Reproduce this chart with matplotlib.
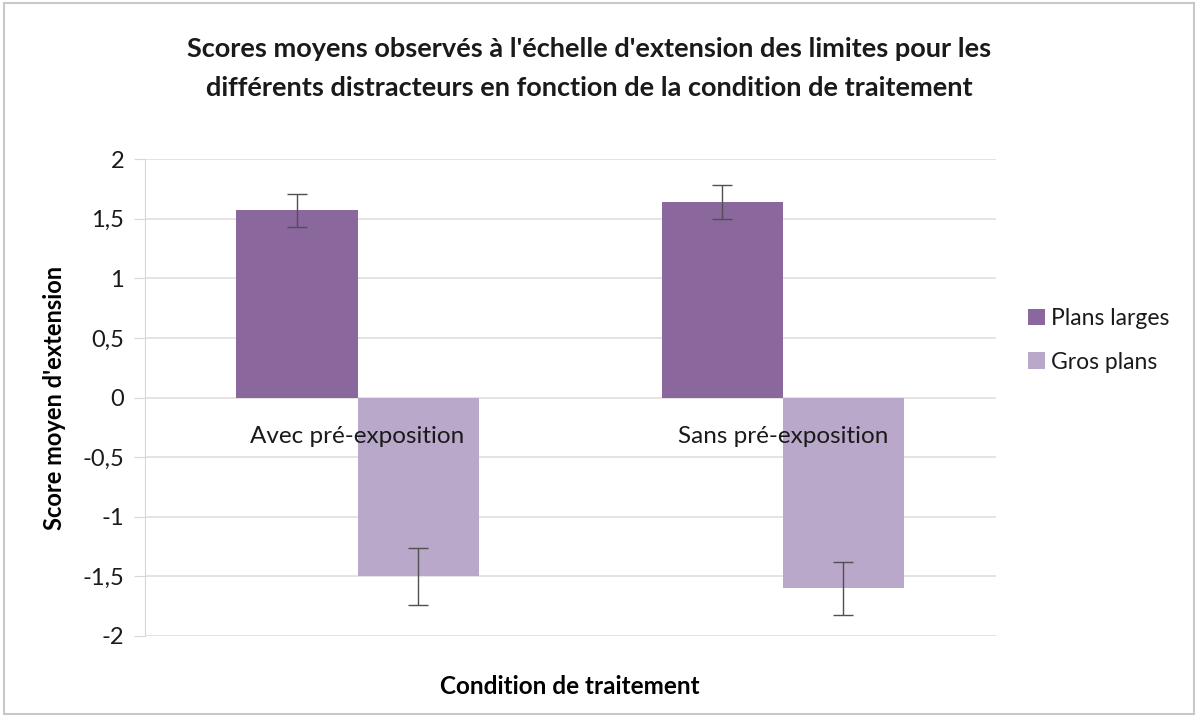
import matplotlib.pyplot as plt
import numpy as np

conditions = ["Avec pré-exposition", "Sans pré-exposition"]
series_names = ["Plans larges", "Gros plans"]
plans_larges = [1.57, 1.64]
plans_larges_err = [0.135, 0.14]
gros_plans = [-1.50, -1.60]
gros_plans_err = [0.24, 0.22]
y_ticks = [2, 1.5, 1, 0.5, 0, -0.5, -1, -1.5, -2]

plt.rcParams['font.family'] = ['Lato', 'DejaVu Sans']
plt.rcParams['text.color'] = "#1a1a1a"

fig = plt.figure(figsize=(11.98, 7.17), dpi=100)
ax = fig.add_axes([0.121, 0.113, 0.71, 0.665])

x = np.arange(len(conditions))
w = 0.285
ax.bar(x - w / 2, plans_larges, w, color="#8a679c", label=series_names[0], zorder=2)
ax.bar(x + w / 2, gros_plans, w, color="#b9a8ca", label=series_names[1], zorder=2)
ax.errorbar(x - w / 2, plans_larges, yerr=plans_larges_err, fmt="none",
            ecolor="#505050", elinewidth=1, capsize=7, capthick=1, zorder=3)
ax.errorbar(x + w / 2, gros_plans, yerr=gros_plans_err, fmt="none",
            ecolor="#505050", elinewidth=1, capsize=7, capthick=1, zorder=3)

ax.set_xlim(-0.5, 1.5)
ax.set_ylim(-2, 2)
ax.set_yticks(y_ticks)
ax.set_yticklabels([str(v).replace(".", ",").replace(",0", "") if v != 0 else "0" for v in y_ticks])
ax.yaxis.grid(True, color="#e3dede", linewidth=1.2, zorder=0)
ax.set_axisbelow(True)
for s in ["top", "right", "bottom"]:
    ax.spines[s].set_visible(False)
ax.spines["left"].set_color("#d3d8de")
ax.tick_params(axis="y", length=8, color="#d3d8de", labelsize=17, pad=7,
               labelcolor="#1a1a1a")
ax.set_xticks([])

for i, c in enumerate(conditions):
    ax.text(x[i], -0.33, c, ha="center", va="center", fontsize=17.5, zorder=4)

ax.set_ylabel("Score moyen d'extension", fontsize=17, fontweight="bold", labelpad=12)
ax.set_xlabel("Condition de traitement", fontsize=17.5, fontweight="bold", labelpad=28)

fig.suptitle("Scores moyens observés à l'échelle d'extension des limites pour les\n"
             "différents distracteurs en fonction de la condition de traitement",
             x=0.492, y=0.948, fontsize=19.5, fontweight="bold", linespacing=1.75)

ax.legend(loc="center left", bbox_to_anchor=(1.0, 0.62), frameon=False, fontsize=16.5,
          handlelength=0.75, handleheight=0.75, labelspacing=1.0, handletextpad=0.25,
          borderaxespad=1.0)

border = plt.Rectangle((0.003, 0.004), 0.994, 0.992, transform=fig.transFigure,
                       fill=False, edgecolor="#c8c8c8", linewidth=1.5)
fig.patches.append(border)

fig.savefig("out.png", dpi=100)
